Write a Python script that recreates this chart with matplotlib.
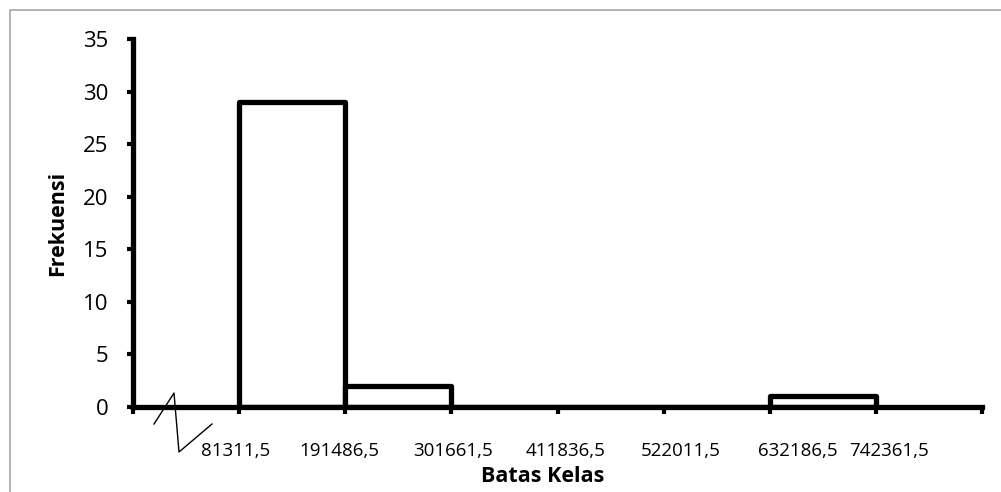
import numpy as np
import matplotlib
matplotlib.use('Agg')
import matplotlib.pyplot as plt
import matplotlib.transforms as mtransforms
from matplotlib.patches import Rectangle

# class boundaries (tick labels) and frequencies
batas_kelas = [81311.5, 191486.5, 301661.5, 411836.5, 522011.5, 632186.5, 742361.5]
batas_label = ['81311,5', '191486,5', '301661,5', '411836,5', '522011,5', '632186,5', '742361,5']
frekuensi = [29, 2, 0, 0, 0, 1]
y_ticks = [0, 5, 10, 15, 20, 25, 30, 35]

# small horizontal nudges (pixels) of the boundary labels, as in the original
label_shift_px = [-3, -6, 2, 8, 17, 28, 13]

plt.rcParams['font.family'] = ['Open Sans', 'DejaVu Sans']

W, H = 1001, 492
fig = plt.figure(figsize=(W / 100, H / 100), dpi=100)
ax = fig.add_axes([133 / W, (H - 407) / H, (982 - 133) / W, (407 - 39) / H])

lebar = batas_kelas[1] - batas_kelas[0]
x_min = batas_kelas[0] - lebar
x_max = batas_kelas[-1] + lebar

ax.bar(batas_kelas[:-1], frekuensi, width=lebar, align='edge',
       facecolor='white', edgecolor='black', linewidth=3.8, joinstyle='round', zorder=2)

ax.set_xlim(x_min, x_max)
ax.set_ylim(0, 35)
ax.set_yticks(y_ticks)
ax.set_xticks([x_min] + batas_kelas + [x_max])
ax.set_xticklabels([])

for s in ['top', 'right']:
    ax.spines[s].set_visible(False)
for s in ['left', 'bottom']:
    ax.spines[s].set_linewidth(3.8)
    ax.spines[s].set_zorder(3)
ax.tick_params(axis='y', direction='out', length=4.5, width=3, labelsize=16, pad=13)
ax.tick_params(axis='x', direction='out', length=5, width=3)

# boundary labels
trans = mtransforms.blended_transform_factory(ax.transData, ax.transAxes)
for xb, lab, dx in zip(batas_kelas, batas_label, label_shift_px):
    t = mtransforms.offset_copy(trans, fig=fig, x=dx, y=-44, units='dots')
    ax.text(xb, 0, lab, transform=t, ha='center', va='center', fontsize=13.5)

ax.set_xlabel('Batas Kelas', fontsize=15.5, fontweight='bold', va='center')
ax.xaxis.set_label_coords((543 - 133) / (982 - 133), -(477 - 407) / (407 - 39))
ax.set_ylabel('Frekuensi', fontsize=15.5, fontweight='bold', va='center')
ax.yaxis.set_label_coords(-(133 - 58) / (982 - 133), (407 - 223) / (407 - 39))

# axis break zigzag
break_x = [(154 - 133) / 849, (174 - 133) / 849, (179 - 133) / 849, (212 - 133) / 849]
break_y = [-(424 - 407) / 368, (407 - 393) / 368, -(452 - 407) / 368, -(424 - 407) / 368]
ax.plot(break_x, break_y, transform=ax.transAxes, color='black', lw=1.0, clip_on=False, zorder=4)

# chart area border
fig.patches.append(Rectangle((9.5 / W, -0.1), 1.2, 1 - 10 / H + 0.1, transform=fig.transFigure,
                             fill=False, edgecolor='#a6a6a6', linewidth=1.2))

fig.savefig('out.png', dpi=100)
